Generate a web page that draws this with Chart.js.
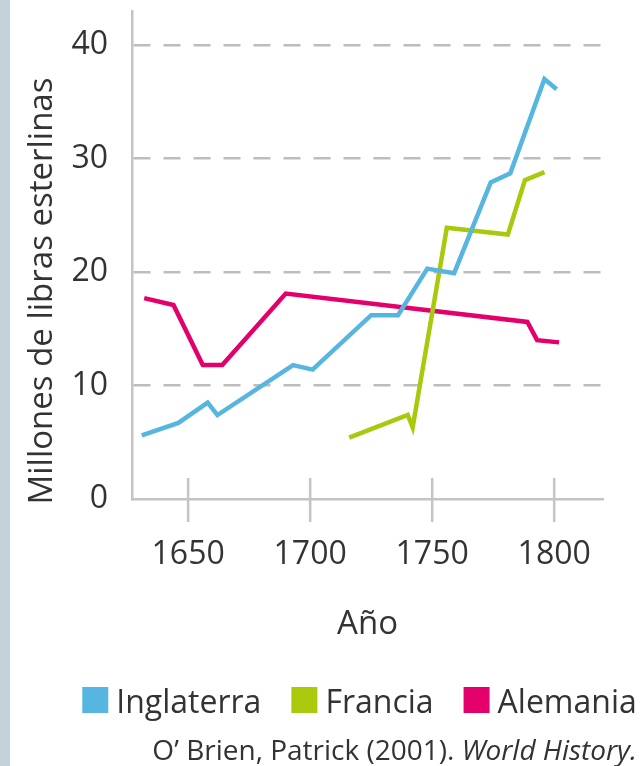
<!DOCTYPE html>
<html>
<head>
<meta charset="utf-8">
<script src="https://cdn.jsdelivr.net/npm/chart.js"></script>
<style>
html, body { margin: 0; padding: 0; background: #fff; overflow: hidden; }
#barra { position: absolute; left: 0; top: 0; width: 10px; height: 766px; background: #c6d2da; }
#caja { position: absolute; left: 0; top: 0; width: 643px; height: 766px; }
</style>
</head>
<body>
<div id="barra"></div>
<div id="caja"><canvas id="grafico"></canvas></div>
<script>
// datos (millones de libras esterlinas)
var anosInglaterra = [1631, 1646, 1658, 1662, 1693, 1701, 1725, 1736, 1748, 1759, 1774, 1782, 1796, 1801];
var valoresInglaterra = [5.6, 6.7, 8.5, 7.4, 11.8, 11.4, 16.2, 16.2, 20.3, 19.9, 27.9, 28.7, 37.0, 36.1];
var anosFrancia = [1716, 1740, 1742, 1756, 1781, 1788, 1796];
var valoresFrancia = [5.4, 7.4, 6.3, 23.9, 23.3, 28.1, 28.8];
var anosAlemania = [1632, 1644, 1656, 1664, 1690, 1789, 1793, 1802];
var valoresAlemania = [17.7, 17.1, 11.8, 11.8, 18.1, 15.6, 14.0, 13.8];
var paises = ['Inglaterra', 'Francia', 'Alemania'];
var colores = ['#56b6e0', '#aac80c', '#e4006b'];
var marcasX = [1650, 1700, 1750, 1800];
var marcasY = [0, 10, 20, 30, 40];

var tinta = '#333';
var gris = '#c4c4c4';

function puntos(anos, valores) {
    return anos.map(function(a, i) { return {x: a, y: valores[i]}; });
}

function serie(i, anos, valores) {
    return {
        label: paises[i],
        data: puntos(anos, valores),
        borderColor: colores[i],
        backgroundColor: colores[i],
        borderWidth: 4.5,
        pointRadius: 0,
        tension: 0,
        fill: false
    };
}

var extras = {
    id: 'extras',
    afterDraw: function(chart) {
        var ctx = chart.ctx;
        var sx = chart.scales.x;
        ctx.save();
        // marcas que cruzan el eje x
        ctx.strokeStyle = gris;
        ctx.lineWidth = 2.5;
        sx.ticks.forEach(function(t) {
            var px = sx.getPixelForValue(t.value);
            ctx.beginPath();
            ctx.moveTo(px, sx.top - 21);
            ctx.lineTo(px, sx.top + 23);
            ctx.stroke();
        });

        // titulo del eje y
        ctx.fillStyle = tinta;
        ctx.font = '33px "Open Sans"';
        ctx.textAlign = 'center';
        ctx.textBaseline = 'alphabetic';
        ctx.save();
        ctx.translate(52, 291);
        ctx.rotate(-Math.PI / 2);
        ctx.fillText('Millones de libras esterlinas', 0, 0);
        ctx.restore();

        // leyenda
        ctx.font = '32px "Open Sans"';
        ctx.textAlign = 'left';
        var items = chart.data.datasets.map(function(d) {
            return {texto: d.label, color: d.borderColor, ancho: ctx.measureText(d.label).width};
        });
        var total = 30 * (items.length - 1);
        items.forEach(function(it) { total += 34 + it.ancho; });
        var x = 359.5 - total / 2;
        items.forEach(function(it) {
            ctx.fillStyle = it.color;
            ctx.fillRect(x, 687, 26, 26);
            ctx.fillStyle = tinta;
            ctx.fillText(it.texto, x + 34, 713);
            x += 34 + it.ancho + 30;
        });

        // fuente
        ctx.textAlign = 'right';
        ctx.font = 'italic 28px "Open Sans"';
        var cursiva = 'World History.';
        ctx.fillText(cursiva, 637, 760);
        var w = ctx.measureText(cursiva).width;
        ctx.font = '28px "Open Sans"';
        ctx.fillText('O\u2019 Brien, Patrick (2001). ', 637 - w, 760);
        ctx.restore();
    }
};

var ctx = document.getElementById('grafico');
var grafico = new Chart(ctx, {
    type: 'line',
    data: {
        datasets: [
            serie(0, anosInglaterra, valoresInglaterra),
            serie(1, anosFrancia, valoresFrancia),
            serie(2, anosAlemania, valoresAlemania)
        ]
    },
    options: {
        responsive: true,
        maintainAspectRatio: false,
        animation: false,
        devicePixelRatio: 1,
        layout: { padding: { left: 10, top: 11, right: 40, bottom: 122 } },
        plugins: { legend: { display: false }, tooltip: { enabled: false } },
        scales: {
            x: {
                type: 'linear',
                min: 1627,
                max: 1820,
                afterBuildTicks: function(s) { s.ticks = marcasX.map(function(v) { return {value: v}; }); },
                afterFit: function(s) { s.height = 145; },
                grid: { display: false, drawTicks: false },
                border: { color: gris, width: 2.5 },
                ticks: {
                    padding: 37,
                    maxRotation: 0,
                    color: tinta,
                    font: { family: 'Open Sans', size: 32 },
                    callback: function(v) { return String(v); }
                },
                title: {
                    display: true,
                    text: 'Año',
                    color: tinta,
                    padding: 0,
                    font: { family: 'Open Sans', size: 33 }
                }
            },
            y: {
                min: 0,
                max: 43,
                afterBuildTicks: function(s) { s.ticks = marcasY.map(function(v) { return {value: v}; }); },
                afterFit: function(s) { s.width = 122; },
                grid: {
                    color: function(c) { return c.tick && c.tick.value === 0 ? 'transparent' : '#bdbdbd'; },
                    lineWidth: 2.5,
                    drawTicks: true,
                    tickLength: 24,
                    tickColor: 'transparent'
                },
                border: { color: gris, width: 2.5, dash: [17, 13] },
                ticks: {
                    padding: 0,
                    color: tinta,
                    font: { family: 'Open Sans', size: 32, lineHeight: 0.6 }
                }
            }
        }
    },
    plugins: [extras]
});
</script>
</body>
</html>
